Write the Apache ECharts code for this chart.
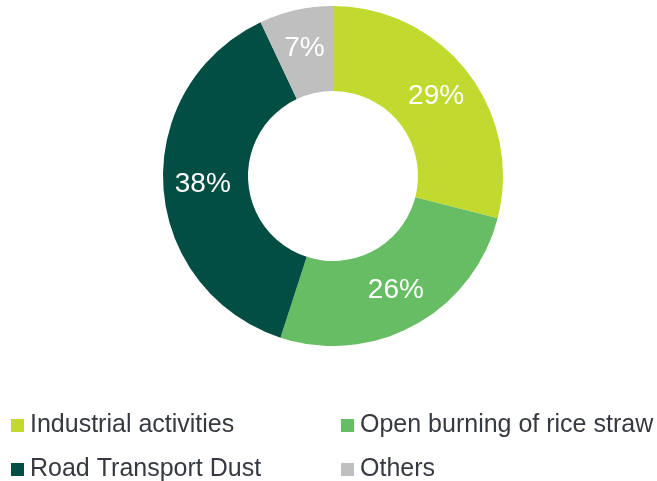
<!DOCTYPE html>
<html>
<head>
<meta charset="utf-8">
<script src="https://cdn.jsdelivr.net/npm/echarts@6/dist/echarts.min.js"></script>
<style>
  html, body { margin: 0; padding: 0; background: #ffffff; }
  #chart { width: 657px; height: 481px; }
</style>
</head>
<body>
<div id="chart"></div>
<script>
// Sources and their percentage shares
const categories = ['Industrial activities', 'Open burning of rice straw', 'Road Transport Dust', 'Others'];
const shares = [29, 26, 38, 7];
const colors = ['#c2d92f', '#66bd63', '#024e43', '#bfbfbf'];

const chart = echarts.init(document.getElementById('chart'), null, { renderer: 'canvas' });

const font = 'Liberation Sans, Arial, sans-serif';

// One legend box per entry, laid out as a 2x2 grid
const legendSlots = [
  { left: 11, top: 413 },
  { left: 341, top: 413 },
  { left: 11, top: 457 },
  { left: 341, top: 457 }
];

const legends = categories.map((name, i) => ({
  data: [name],
  left: legendSlots[i].left,
  top: legendSlots[i].top,
  padding: 0,
  icon: 'rect',
  itemWidth: 13,
  itemHeight: 13,
  selectedMode: false,
  textStyle: {
    fontFamily: font,
    fontSize: 25,
    color: '#363a40',
    lineHeight: 25,
    padding: [0, 0, 0, 1]
  }
}));

chart.setOption({
  backgroundColor: '#ffffff',
  animation: false,
  color: colors,
  legend: legends,
  series: [{
    type: 'pie',
    center: [333, 176],
    radius: [85, 170],
    startAngle: 90,
    clockwise: true,
    avoidLabelOverlap: false,
    itemStyle: { borderWidth: 0 },
    label: {
      show: true,
      position: 'inside',
      formatter: '{c}%',
      color: '#ffffff',
      fontFamily: font,
      fontSize: 28
    },
    labelLine: { show: false },
    emphasis: { disabled: true },
    data: categories.map((name, i) => ({ name: name, value: shares[i] }))
  }]
});
</script>
</body>
</html>
